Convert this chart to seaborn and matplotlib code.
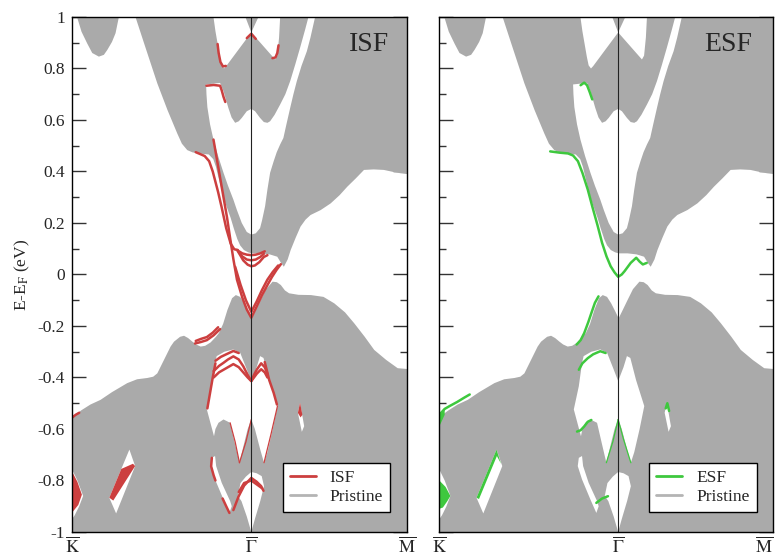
import matplotlib
matplotlib.use('Agg')
import matplotlib.pyplot as plt
import seaborn as sns
from matplotlib.lines import Line2D
from matplotlib.ticker import MultipleLocator

# k path: K = 0, Gamma = 1, M = 1.866 (|GM| / |KG| = 0.866)
k_ticks = [0.0, 1.0, 1.866]
k_labels = [r'$\overline{\mathrm{K}}$', r'$\overline{\Gamma}$', r'$\overline{\mathrm{M}}$']

# ---- pristine projected bulk bands (gray) ----
vb_k = [0, 0.05, 0.10, 0.156, 0.22, 0.305, 0.36, 0.417, 0.45, 0.473, 0.51, 0.547, 0.566, 0.60,
        0.622, 0.645, 0.669, 0.69, 0.715, 0.74, 0.77, 0.80, 0.817, 0.84, 0.864, 0.89, 0.911,
        0.935, 0.958, 0.98, 1.0, 1.02, 1.05, 1.08, 1.116, 1.14, 1.162, 1.185, 1.208, 1.26,
        1.33, 1.40, 1.46, 1.52, 1.572, 1.63, 1.683, 1.75, 1.814, 1.866]
vb_top = [-0.55, -0.525, -0.503, -0.485, -0.455, -0.42, -0.405, -0.40, -0.395, -0.382, -0.33,
          -0.278, -0.259, -0.24, -0.236, -0.245, -0.259, -0.27, -0.278, -0.275, -0.262, -0.24,
          -0.225, -0.19, -0.136, -0.09, -0.078, -0.085, -0.11, -0.14, -0.168, -0.14, -0.097,
          -0.055, -0.026, -0.028, -0.039, -0.06, -0.071, -0.077, -0.078, -0.085, -0.11, -0.145,
          -0.188, -0.24, -0.291, -0.33, -0.362, -0.365]

cb_k = [0.352, 0.40, 0.473, 0.53, 0.584, 0.61, 0.64, 0.67, 0.70, 0.73, 0.76, 0.785, 0.80, 0.812,
        0.83, 0.845, 0.865, 0.882, 0.90, 0.919, 0.935, 0.956, 0.98, 1.0, 1.05, 1.10, 1.142,
        1.165, 1.179, 1.20, 1.217, 1.245, 1.272, 1.30, 1.328, 1.384, 1.44, 1.49, 1.533, 1.58,
        1.626, 1.68, 1.737, 1.79, 1.83, 1.866]
cb_low = [1.0, 0.898, 0.744, 0.64, 0.55, 0.51, 0.485, 0.476, 0.473, 0.47, 0.468, 0.45, 0.42,
          0.385, 0.335, 0.295, 0.255, 0.222, 0.18, 0.14, 0.115, 0.097, 0.088, 0.084, 0.084,
          0.08, 0.071, 0.045, 0.032, 0.06, 0.097, 0.145, 0.188, 0.215, 0.233, 0.252, 0.278,
          0.31, 0.343, 0.375, 0.408, 0.41, 0.408, 0.40, 0.395, 0.392]

pocket_k = [0.026, 0.05, 0.082, 0.11, 0.147, 0.175, 0.194, 0.22, 0.24, 0.258]
pocket_low = [1.0, 0.945, 0.899, 0.862, 0.848, 0.855, 0.874, 0.905, 0.939, 1.0]

# gaps inside the projected bands
w1_k = [0.789, 0.80, 0.813, 0.825, 0.835, 0.848, 0.86, 1.0, 0.967]
w1_e = [1.0, 0.945, 0.893, 0.845, 0.812, 0.80, 0.809, 0.94, 1.0]
w2_k = [1.04, 1.0, 1.133, 1.145, 1.155, 1.161]
w2_e = [1.0, 0.94, 0.835, 0.85, 0.92, 1.0]
w3_k = [0.748, 0.826, 0.845, 0.872, 0.89, 0.91, 0.93, 0.947, 0.975, 1.0, 1.021, 1.049, 1.07,
        1.09, 1.105, 1.13, 1.161, 1.19, 1.217, 1.245, 1.272, 1.30, 1.319, 1.356, 1.33, 1.31,
        1.28, 1.254, 1.235, 1.217, 1.195, 1.179, 1.161, 1.142, 1.125, 1.105, 1.09, 1.077,
        1.06, 1.049, 1.025, 1.0, 0.975, 0.947, 0.92, 0.9, 0.87, 0.845, 0.815, 0.789, 0.77,
        0.755, 0.75]
w3_e = [0.738, 0.744, 0.712, 0.647, 0.61, 0.589, 0.595, 0.608, 0.634, 0.643, 0.634, 0.608,
        0.592, 0.589, 0.595, 0.62, 0.66, 0.70, 0.751, 0.815, 0.88, 0.95, 1.0, 1.0, 0.92, 0.867,
        0.81, 0.751, 0.70, 0.647, 0.58, 0.53, 0.505, 0.475, 0.44, 0.395, 0.33, 0.265, 0.21,
        0.18, 0.16, 0.155, 0.165, 0.20, 0.25, 0.291, 0.345, 0.395, 0.46, 0.524, 0.583, 0.65,
        0.70]
hk_k = [0, 0.03, 0.062, 0.04, 0.015, 0]
hk_e = [-0.757, -0.80, -0.86, -0.90, -0.935, -0.95]
h1_k = [0.208, 0.32, 0.352, 0.246]
h1_e = [-0.867, -0.68, -0.744, -0.928]
h2_k = [0.752, 0.78, 0.798, 0.807, 0.85, 0.9, 0.938, 0.97, 1.0, 1.03, 1.049, 1.068, 1.10,
        1.146, 1.12, 1.09, 1.071, 1.05, 1.02, 1.0, 0.98, 0.955, 0.934, 0.91, 0.882, 0.845,
        0.817, 0.80, 0.792]
h2_e = [-0.524, -0.434, -0.343, -0.317, -0.30, -0.291, -0.304, -0.36, -0.414, -0.36, -0.317,
        -0.324, -0.41, -0.511, -0.60, -0.69, -0.731, -0.68, -0.60, -0.563, -0.60, -0.67,
        -0.731, -0.66, -0.576, -0.563, -0.576, -0.60, -0.628]
h3_k = [1.272, 1.295, 1.282, 1.26]
h3_e = [-0.498, -0.589, -0.611, -0.537]
h4_k = [0.78, 0.798, 0.804, 0.835, 0.882, 0.891, 0.878, 0.845, 0.798, 0.774]
h4_e = [-0.712, -0.705, -0.744, -0.809, -0.88, -0.90, -0.926, -0.874, -0.796, -0.744]
h5_k = [1.0, 1.03, 1.058, 1.071, 1.05, 1.02, 1.0, 0.975, 0.945, 0.925, 0.94, 0.97]
h5_e = [-0.767, -0.772, -0.783, -0.822, -0.88, -0.95, -1.0, -0.94, -0.88, -0.86, -0.81, -0.785]

# ---- ISF slab states (red) ----
isf_lines = [
    ([0.69, 0.714, 0.74, 0.765, 0.785, 0.80, 0.815, 0.835, 0.86, 0.885, 0.905, 0.925],
     [0.475, 0.468, 0.46, 0.44, 0.40, 0.36, 0.32, 0.26, 0.18, 0.12, 0.098, 0.095]),
    ([0.789, 0.82, 0.845, 0.865, 0.88, 0.90, 0.92, 0.95, 0.975, 1.0, 1.031, 1.06, 1.087,
      1.115, 1.142, 1.165],
     [0.524, 0.40, 0.30, 0.22, 0.15, 0.06, -0.02, -0.09, -0.136, -0.168, -0.123, -0.08,
      -0.045, -0.01, 0.019, 0.04]),
    ([0.91, 0.94, 0.97, 1.0, 1.03, 1.06, 1.09, 1.12, 1.15],
     [0.03, -0.04, -0.10, -0.145, -0.105, -0.06, -0.02, 0.01, 0.035]),
    ([0.92, 0.95, 0.975, 1.0, 1.025, 1.05, 1.075], [0.095, 0.082, 0.077, 0.075, 0.077, 0.082, 0.09]),
    ([0.925, 0.95, 0.975, 1.0, 1.025, 1.05, 1.07], [0.09, 0.07, 0.058, 0.055, 0.058, 0.068, 0.08]),
    ([0.93, 0.955, 0.98, 1.0, 1.02, 1.045, 1.07, 1.09], [0.085, 0.055, 0.038, 0.032, 0.035, 0.048, 0.068, 0.075]),
    ([0.75, 0.79, 0.826, 0.835, 0.845, 0.855], [0.733, 0.736, 0.733, 0.715, 0.69, 0.67]),
    ([0.812, 0.818, 0.828, 0.842, 0.858], [0.895, 0.86, 0.825, 0.808, 0.81]),
    ([1.118, 1.135, 1.145, 1.152], [0.84, 0.843, 0.86, 0.89]),
    ([0.975, 1.0, 1.025], [0.918, 0.935, 0.915]),
    ([0.686, 0.72, 0.752, 0.79, 0.826], [-0.268, -0.262, -0.255, -0.236, -0.212]),
    ([0.69, 0.72, 0.752, 0.785, 0.815], [-0.258, -0.25, -0.243, -0.226, -0.205]),
    ([0.79, 0.82, 0.845, 0.87, 0.9, 0.93, 0.955, 0.98, 1.0, 1.015, 1.031, 1.055, 1.075, 1.09],
     [-0.375, -0.355, -0.343, -0.33, -0.318, -0.33, -0.356, -0.39, -0.414, -0.39, -0.369,
      -0.345, -0.36, -0.385]),
    ([0.79, 0.82, 0.845, 0.87, 0.9, 0.93, 0.955, 0.98, 1.0, 1.015, 1.031, 1.055, 1.075, 1.09],
     [-0.40, -0.38, -0.37, -0.36, -0.348, -0.36, -0.38, -0.40, -0.414, -0.40, -0.385,
      -0.368, -0.38, -0.40]),
    ([0.80, 0.83, 0.86, 0.9, 0.93], [-0.335, -0.32, -0.31, -0.297, -0.305]),
    ([0.755, 0.77, 0.785, 0.80], [-0.52, -0.46, -0.40, -0.345]),
    ([1.075, 1.10, 1.125, 1.143], [-0.34, -0.41, -0.46, -0.505]),
    ([0.78, 0.776, 0.79, 0.80], [-0.712, -0.745, -0.78, -0.80]),
    ([0.84, 0.86, 0.878], [-0.87, -0.90, -0.926]),
    ([0.9, 0.929, 0.96, 1.0, 1.03, 1.055, 1.068], [-0.915, -0.862, -0.82, -0.79, -0.805, -0.822, -0.84]),
    ([0.93, 0.96, 1.0, 1.03, 1.06], [-0.845, -0.81, -0.80, -0.815, -0.83]),
    ([0, 0.02, 0.04], [-0.556, -0.545, -0.537]),
]
isf_thin = [
    ([1.0, 0.97, 0.934], [-0.563, -0.65, -0.731]),
    ([1.146, 1.11, 1.071], [-0.511, -0.62, -0.731]),
    ([0.934, 0.91, 0.882], [-0.731, -0.65, -0.576]),
]
isf_patches = [
    ([0, 0.03, 0.055, 0.035, 0], [-0.765, -0.805, -0.855, -0.895, -0.925]),
    ([0.208, 0.275, 0.34, 0.352, 0.23], [-0.867, -0.755, -0.735, -0.744, -0.878]),
    ([1.272, 1.285, 1.275, 1.262, 1.26], [-0.498, -0.545, -0.555, -0.54, -0.537]),
]

# ---- ESF slab states (green) ----
esf_lines = [
    ([0.62, 0.674, 0.72, 0.748, 0.775, 0.80, 0.83, 0.855, 0.885, 0.91, 0.935, 0.958, 0.98,
      1.0, 1.02, 1.036, 1.07, 1.101, 1.12, 1.138, 1.16],
     [0.478, 0.473, 0.47, 0.462, 0.44, 0.395, 0.33, 0.265, 0.19, 0.123, 0.07, 0.032, 0.008,
      -0.009, 0.0, 0.013, 0.045, 0.065, 0.05, 0.039, 0.045]),
    ([0.79, 0.81, 0.826, 0.84, 0.855], [0.735, 0.745, 0.735, 0.71, 0.68]),
    ([0.768, 0.79, 0.81, 0.833, 0.85, 0.87, 0.89], [-0.272, -0.255, -0.228, -0.185, -0.15, -0.11, -0.085]),
    ([0, 0.03, 0.06, 0.10, 0.14, 0.17], [-0.545, -0.522, -0.51, -0.495, -0.478, -0.466]),
    ([0.78, 0.80, 0.83, 0.86, 0.9, 0.93], [-0.37, -0.345, -0.325, -0.31, -0.298, -0.305]),
    ([0.77, 0.79, 0.81, 0.83, 0.85], [-0.61, -0.605, -0.59, -0.572, -0.565]),
    ([1.266, 1.275, 1.285], [-0.52, -0.5, -0.53]),
    ([0.878, 0.91, 0.943], [-0.887, -0.87, -0.861]),
]
esf_thin = [
    ([1.0, 1.03, 1.071], [-0.563, -0.64, -0.731]),
    ([1.0, 0.97, 0.934], [-0.563, -0.65, -0.731]),
]
esf_patches = [
    ([0, 0.035, 0.062, 0.045, 0.02, 0], [-0.80, -0.825, -0.86, -0.88, -0.905, -0.91]),
    ([0, 0.03, 0.03, 0], [-0.54, -0.524, -0.545, -0.59]),
    ([0.208, 0.32, 0.345, 0.335, 0.322, 0.222], [-0.867, -0.68, -0.735, -0.722, -0.705, -0.872]),
]

gray = '#aaaaaa'
red = '#cc3f3f'
green = '#3ec83e'

sns.set_theme(style='ticks')
plt.rcParams['font.family'] = ['Liberation Serif', 'DejaVu Serif']
plt.rcParams['mathtext.fontset'] = 'stix'
plt.rcParams['axes.unicode_minus'] = False

fig = plt.figure(figsize=(7.77, 5.57), dpi=100)
ax1 = fig.add_axes([0.0927, 0.0449, 0.4305, 0.9246])
ax2 = fig.add_axes([0.5654, 0.0449, 0.4295, 0.9246])


def draw_pristine(ax):
    ax.fill_between(vb_k, -1.0, vb_top, color=gray, lw=0, zorder=1)
    ax.fill_between(cb_k, cb_low, 1.0, color=gray, lw=0, zorder=1)
    ax.fill_between(pocket_k, pocket_low, 1.0, color=gray, lw=0, zorder=1)
    holes = [(w1_k, w1_e), (w2_k, w2_e), (w3_k, w3_e), (hk_k, hk_e), (h1_k, h1_e),
             (h2_k, h2_e), (h3_k, h3_e), (h4_k, h4_e), (h5_k, h5_e)]
    for hk, he in holes:
        ax.fill(hk, he, color='white', lw=0, zorder=2)


def draw_slab(ax, lines, thin, patches, color):
    for pk, pe in patches:
        ax.fill(pk, pe, color=color, lw=0, zorder=3)
    for lk, le in lines:
        sns.lineplot(x=lk, y=le, sort=False, estimator=None, color=color, lw=1.8, ax=ax, zorder=3)
    for lk, le in thin:
        sns.lineplot(x=lk, y=le, sort=False, estimator=None, color=color, lw=0.9, ax=ax, zorder=3)


for ax, lines, thin, patches, color, name, tx in [
        (ax1, isf_lines, isf_thin, isf_patches, red, 'ISF', 0.948),
        (ax2, esf_lines, esf_thin, esf_patches, green, 'ESF', 0.939)]:
    draw_pristine(ax)
    draw_slab(ax, lines, thin, patches, color)
    ax.axvline(1.0, color='#222222', lw=0.8, zorder=4)
    ax.set_xlim(0, 1.866)
    ax.set_ylim(-1, 1)
    ax.set_xticks(k_ticks)
    ax.set_xticklabels(k_labels)
    ax.yaxis.set_major_locator(MultipleLocator(0.2))
    ax.yaxis.set_minor_locator(MultipleLocator(0.1))
    ax.set_yticks([-1, -0.8, -0.6, -0.4, -0.2, 0, 0.2, 0.4, 0.6, 0.8, 1])
    ax.set_yticklabels(['-1', '-0.8', '-0.6', '-0.4', '-0.2', '0', '0.2', '0.4', '0.6', '0.8', '1'])
    ax.tick_params(axis='y', which='both', direction='in', left=True, right=True,
                   color='#333333', width=1.0, labelsize=12.5, pad=5)
    ax.tick_params(axis='y', which='major', length=10)
    ax.tick_params(axis='y', which='minor', length=5)
    ax.tick_params(axis='x', length=0, labelsize=13, pad=3)
    for sp in ax.spines.values():
        sp.set_color('black')
        sp.set_linewidth(1.0)
        sp.set_zorder(5)
    ax.text(tx, 0.947, name, transform=ax.transAxes, ha='right', va='center', fontsize=20, zorder=6)
    handles = [Line2D([], [], color=color, lw=2), Line2D([], [], color='#b4b4b4', lw=2)]
    leg = ax.legend(handles, [name, 'Pristine'], loc='lower right', bbox_to_anchor=(0.951, 0.039),
                    borderaxespad=0, fancybox=False, framealpha=1, edgecolor='black',
                    fontsize=12.5, borderpad=0.4, handlelength=1.5, handletextpad=0.8,
                    labelspacing=0.15)
    leg.get_frame().set_linewidth(1.0)
    leg.set_zorder(7)

ax1.set_ylabel(r'E-E$_\mathrm{F}$ (eV)', fontsize=12.5, labelpad=4)
ax2.tick_params(axis='y', labelleft=False)
ax2.set_ylabel('')
# keep the M-bar label of the right panel inside the figure edge
ax2.get_xticklabels()[-1].set_horizontalalignment('right')

fig.savefig('out.png', dpi=100)
